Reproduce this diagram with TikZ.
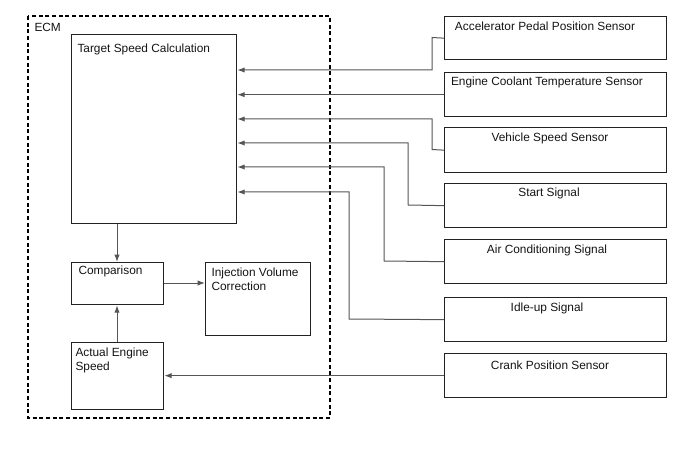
\documentclass[tikz,border=0pt]{standalone}
\usepackage{fontspec}
\setmainfont{Liberation Sans}
\usetikzlibrary{arrows.meta}

\tikzset{every picture/.style={line width=0.75pt}}
\tikzset{
  blk/.style 2 args={draw={rgb,255:red,34;green,34;blue,34}, line width=1pt, anchor=north west, inner sep=0pt,
    minimum width=#1*0.75pt, minimum height=#2*0.75pt},
  sig/.style={draw={rgb,255:red,85;green,85;blue,85}, line width=0.75pt},
  arr/.style={sig, -{Latex[length=5.5pt,width=4pt]}},
  txt/.style={inner sep=0.75pt, font=\fontsize{8.9}{10.7}\selectfont, text={rgb,255:red,20;green,20;blue,20}}
}

\begin{document}
\begin{tikzpicture}[x=0.75pt,y=0.75pt,yscale=-1,xscale=1]
\useasboundingbox (0,0) rectangle (688,463);

%ECM frame
\draw [line width=0.9pt, dash pattern=on 3pt off 2pt] (28,16) rectangle (330,418);
\node [txt, anchor=west] (ecm) at (33,27) {ECM};

%ECM blocks
\node [blk={165}{189}] (tsc) at (71,34) {};
\node [blk={92}{42}] (cmp) at (71,262) {};
\node [blk={105}{73}] (ivc) at (205,262) {};
\node [blk={92}{67}] (aes) at (71,342) {};

%Sensor blocks
\node [blk={222}{43}] (aps) at (444,16) {};
\node [blk={222}{44}] (ect) at (444,72) {};
\node [blk={222}{45}] (vss) at (444,127) {};
\node [blk={222}{44}] (sta) at (444,183) {};
\node [blk={222}{44}] (acs) at (444,239) {};
\node [blk={222}{44}] (ius) at (444,297) {};
\node [blk={222}{44}] (cps) at (444,353) {};

% Text Node
\node [txt, anchor=west] (tsct) at (76,49) {Target Speed Calculation};
\node [txt, anchor=west] (cmpt) at (77,271) {Comparison};
\node [txt, anchor=north west, align=left] (ivct) at (210,266) {Injection Volume\\Correction};
\node [txt, anchor=north west, align=left] (aest) at (74,346) {Actual Engine\\Speed};
\node [txt] (apst) at (545,26) {Accelerator Pedal Position Sensor};
\node [txt] (ectt) at (547,82) {Engine Coolant Temperature Sensor};
\node [txt] (vsst) at (550,138) {Vehicle Speed Sensor};
\node [txt] (stat) at (549,193) {Start Signal};
\node [txt] (acst) at (547,250) {Air Conditioning Signal};
\node [txt] (iust) at (547,308) {Idle-up Signal};
\node [txt] (cpst) at (550,365) {Crank Position Sensor};

%Connectors
\draw [arr] (aps.west) -- (432,37.5) |- (tsc.east |- 0,70);
\draw [arr] (ect.west) -- (tsc.east |- ect.west);
\draw [arr] (vss.west) -- (432,149.5) |- (tsc.east |- 0,119);
\draw [arr] (sta.west) -- (408,205) |- (tsc.east |- 0,143);
\draw [arr] (acs.west) -- (384,261) |- (tsc.east |- 0,167);
\draw [arr] (ius.west) -- (349,319) |- (tsc.east |- 0,192);
\draw [arr] (cps.west) -- (aes.east |- cps.west);
\draw [arr] (tsc.south -| 117,0) -- (cmp.north -| 117,0);
\draw [arr] (aes.north -| 117,0) -- (cmp.south -| 117,0);
\draw [arr] (cmp.east |- 0,283) -- (ivc.west |- 0,283);

\end{tikzpicture}
\end{document}
